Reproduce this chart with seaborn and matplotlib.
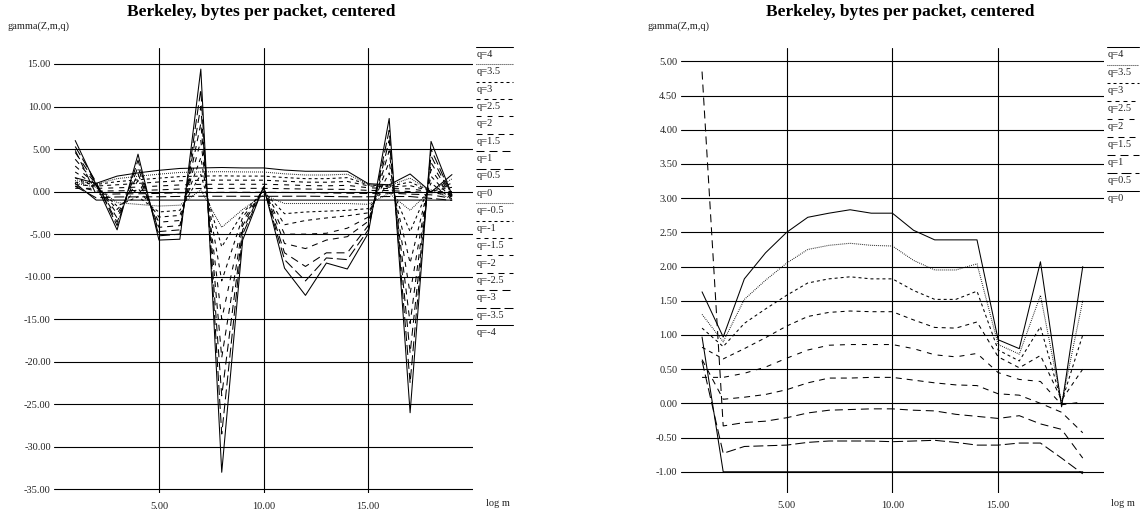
import numpy as np
import pandas as pd
import matplotlib
matplotlib.use("Agg")
import matplotlib.pyplot as plt
from matplotlib.lines import Line2D
import seaborn as sns

sns.set_theme(style="white")
plt.rcParams['font.family'] = ['Liberation Serif', 'DejaVu Serif']
plt.rcParams['lines.scale_dashes'] = False

# ---------------- data ----------------
log_m = list(range(1, 20))
q_labels = ["4", "3.5", "3", "2.5", "2", "1.5", "1", "0.5", "0",
            "-0.5", "-1", "-1.5", "-2", "-2.5", "-3", "-3.5", "-4"]

g_4   = [1.63, 0.97, 1.82, 2.20, 2.50, 2.72, 2.78, 2.83, 2.78, 2.78, 2.53, 2.39, 2.39, 2.39, 0.93, 0.80, 2.07, -0.05, 2.00]
g_3_5 = [1.30, 0.90, 1.52, 1.80, 2.05, 2.25, 2.31, 2.34, 2.31, 2.30, 2.09, 1.95, 1.95, 2.04, 0.86, 0.72, 1.58, 0.00, 1.50]
g_3   = [1.10, 0.83, 1.17, 1.38, 1.58, 1.76, 1.82, 1.85, 1.82, 1.82, 1.65, 1.52, 1.52, 1.64, 0.78, 0.62, 1.12, 0.02, 1.00]
g_2_5 = [0.82, 0.65, 0.80, 0.96, 1.13, 1.27, 1.33, 1.35, 1.34, 1.34, 1.22, 1.11, 1.10, 1.19, 0.68, 0.52, 0.70, 0.05, 0.50]
g_2   = [0.38, 0.38, 0.44, 0.53, 0.66, 0.78, 0.85, 0.86, 0.86, 0.86, 0.80, 0.71, 0.68, 0.73, 0.45, 0.35, 0.32, -0.02, 0.02]
g_1_5 = [0.64, 0.06, 0.09, 0.13, 0.20, 0.30, 0.37, 0.37, 0.38, 0.38, 0.34, 0.30, 0.27, 0.26, 0.14, 0.12, 0.00, -0.13, -0.43]
g_1   = [4.85, -0.33, -0.28, -0.26, -0.21, -0.14, -0.10, -0.09, -0.08, -0.08, -0.10, -0.11, -0.16, -0.19, -0.22, -0.18, -0.30, -0.38, -0.80]
g_0_5 = [0.62, -0.73, -0.63, -0.62, -0.61, -0.57, -0.55, -0.55, -0.55, -0.56, -0.55, -0.54, -0.57, -0.61, -0.61, -0.58, -0.58, -0.80, -1.03]
g_0   = [0.97, -1.00, -1.00, -1.00, -1.00, -1.00, -1.00, -1.00, -1.00, -1.00, -1.00, -1.00, -1.00, -1.00, -1.00, -1.00, -1.00, -1.00, -1.00]
g_m0_5 = [1.0, 0.5, -1.3, -1.5, -1.7, -1.6, 0.2, -4.2, -2.1, -0.4, -1.4, -1.4, -1.4, -1.4, -1.5, -0.2, -2.2, 0.2, -0.9]
g_m1   = [1.6, 0.6, -1.7, -0.6, -2.4, -2.2, 2.0, -6.5, -2.5, 0.0, -2.6, -2.4, -2.3, -2.2, -2.0, 1.0, -4.7, 1.0, -0.9]
g_m1_5 = [2.3, 0.7, -2.1, 0.4, -3.0, -2.8, 4.0, -10.5, -3.0, 0.2, -3.9, -3.4, -3.1, -2.85, -2.5, 2.2, -8.4, 1.8, -0.8]
g_m2   = [3.0, 0.8, -2.6, 1.3, -3.6, -3.4, 6.0, -15.0, -3.5, 0.3, -5.0, -5.0, -4.9, -4.3, -3.0, 3.5, -12.0, 2.6, -0.8]
g_m2_5 = [3.8, 0.9, -3.1, 2.1, -4.2, -4.0, 8.0, -19.5, -4.0, 0.4, -6.1, -6.7, -5.7, -5.3, -3.5, 4.8, -15.5, 3.4, -0.7]
g_m3   = [4.6, 1.0, -3.6, 2.9, -4.7, -4.5, 10.0, -24.0, -4.5, 0.5, -7.2, -8.8, -7.2, -7.2, -4.0, 6.0, -19.0, 4.2, -0.6]
g_m3_5 = [5.3, 1.1, -4.0, 3.7, -5.2, -5.0, 12.0, -28.5, -5.0, 0.5, -8.0, -10.5, -7.8, -8.0, -4.5, 7.2, -22.5, 5.0, -0.5]
g_m4   = [6.0, 0.8, -4.5, 4.4, -5.7, -5.6, 14.4, -33.0, -5.7, 0.6, -9.0, -12.2, -8.4, -9.1, -4.9, 8.6, -26.0, 5.9, -0.4]

series = [g_4, g_3_5, g_3, g_2_5, g_2, g_1_5, g_1, g_0_5, g_0,
          g_m0_5, g_m1, g_m1_5, g_m2, g_m2_5, g_m3, g_m3_5, g_m4]

left_yticks = [15, 10, 5, 0, -5, -10, -15, -20, -25, -30, -35]
right_yticks = [5.0, 4.5, 4.0, 3.5, 3.0, 2.5, 2.0, 1.5, 1.0, 0.5, 0.0, -0.5, -1.0]
xticks = [5, 10, 15]
title = "Berkeley, bytes per packet, centered"

# ---------------- styles (8-cycle, in points) ----------------
PX = 0.72
base_dashes = ["",
               (0.8 * PX, 1.2 * PX),
               (3 * PX, 3 * PX),
               (4 * PX, 4 * PX),
               (5 * PX, 6 * PX),
               (6 * PX, 5 * PX),
               (8 * PX, 5 * PX),
               (10 * PX, 4 * PX)]
dash_map = {lab: base_dashes[i % 8] for i, lab in enumerate(q_labels)}

rows = []
for lab, vals in zip(q_labels, series):
    for m, v in zip(log_m, vals):
        rows.append({"q": lab, "log m": m, "gamma": v})
df = pd.DataFrame(rows)

W, H = 1140, 519
fig = plt.figure(figsize=(W / 100, H / 100), dpi=100)
fig.patch.set_facecolor("white")


def make_axes(x0, x1, ytop, ybot):
    return fig.add_axes([x0 / W, 1 - ybot / H, (x1 - x0) / W, (ybot - ytop) / H])


def style_axes(ax, yticks, ylim):
    ax.set_xlim(0, 20)
    ax.set_ylim(*ylim)
    for s in ax.spines.values():
        s.set_visible(False)
    ax.set_facecolor("white")
    for yv in yticks:
        ax.axhline(yv, color="black", lw=0.8, zorder=1)
    for xv in xticks:
        ax.axvline(xv, color="black", lw=0.8, zorder=1)
    ax.set_yticks(yticks)
    ax.set_yticklabels([f"{v:.2f}" for v in yticks])
    ax.set_xticks(xticks)
    ax.set_xticklabels([f"{v:.2f}" for v in xticks])
    ax.tick_params(axis="both", length=0, labelsize=7.5, colors="#222222")
    ax.tick_params(axis="y", pad=2.5)
    ax.tick_params(axis="x", pad=6)
    ax.set_xlabel("")
    ax.set_ylabel("")
    ax.grid(False)


# left panel
axL = make_axes(54.3, 472.9, 48, 493.3)
sns.lineplot(data=df, x="log m", y="gamma", style="q", dashes=dash_map,
             style_order=q_labels, color="black", lw=0.75, legend=False,
             estimator=None, sort=False, ax=axL, zorder=3)
style_axes(axL, left_yticks, (-35.47, 16.88))

# right panel (q >= 0)
dfR = df[df["q"].isin(q_labels[:9])]
axR = make_axes(680.9, 1103.9, 48.3, 493)
sns.lineplot(data=dfR, x="log m", y="gamma", style="q", dashes=dash_map,
             style_order=q_labels[:9], color="black", lw=0.75, legend=False,
             estimator=None, sort=False, ax=axR, zorder=3)
style_axes(axR, right_yticks, (-1.31, 5.19))

# texts
for cx, gx, lx in [(261, 8, 486), (900, 648, 1111)]:
    fig.text(cx / W, 1 - 12.5 / H, title, ha="center", va="center",
             fontsize=12.5, fontweight="bold", color="black")
    fig.text(gx / W, 1 - 26 / H, "gamma(Z,m,q)", ha="left", va="center",
             fontsize=7.5, color="#222222")
    fig.text(lx / W, 1 - 503 / H, "log m", ha="left", va="center",
             fontsize=7.5, color="#222222")

# legends
def draw_legend(labels, x0, x1, y0, dy):
    for i, lab in enumerate(labels):
        yl = y0 + i * dy
        ln = Line2D([x0 / W, x1 / W], [1 - yl / H, 1 - yl / H],
                    transform=fig.transFigure, color="black", lw=0.75)
        d = dash_map[lab]
        if d != "":
            ln.set_dashes(d)
        fig.add_artist(ln)
        fig.text((x0 + 1) / W, 1 - (yl + 7.5) / H, f"q={lab}", ha="left",
                 va="center", fontsize=7.5, color="#222222")

draw_legend(q_labels, 475.7, 513.3, 46.7, 17.4)
draw_legend(q_labels[:9], 1107, 1139, 46.7, 18.0)

fig.savefig("out.png", dpi=100, facecolor="white")
